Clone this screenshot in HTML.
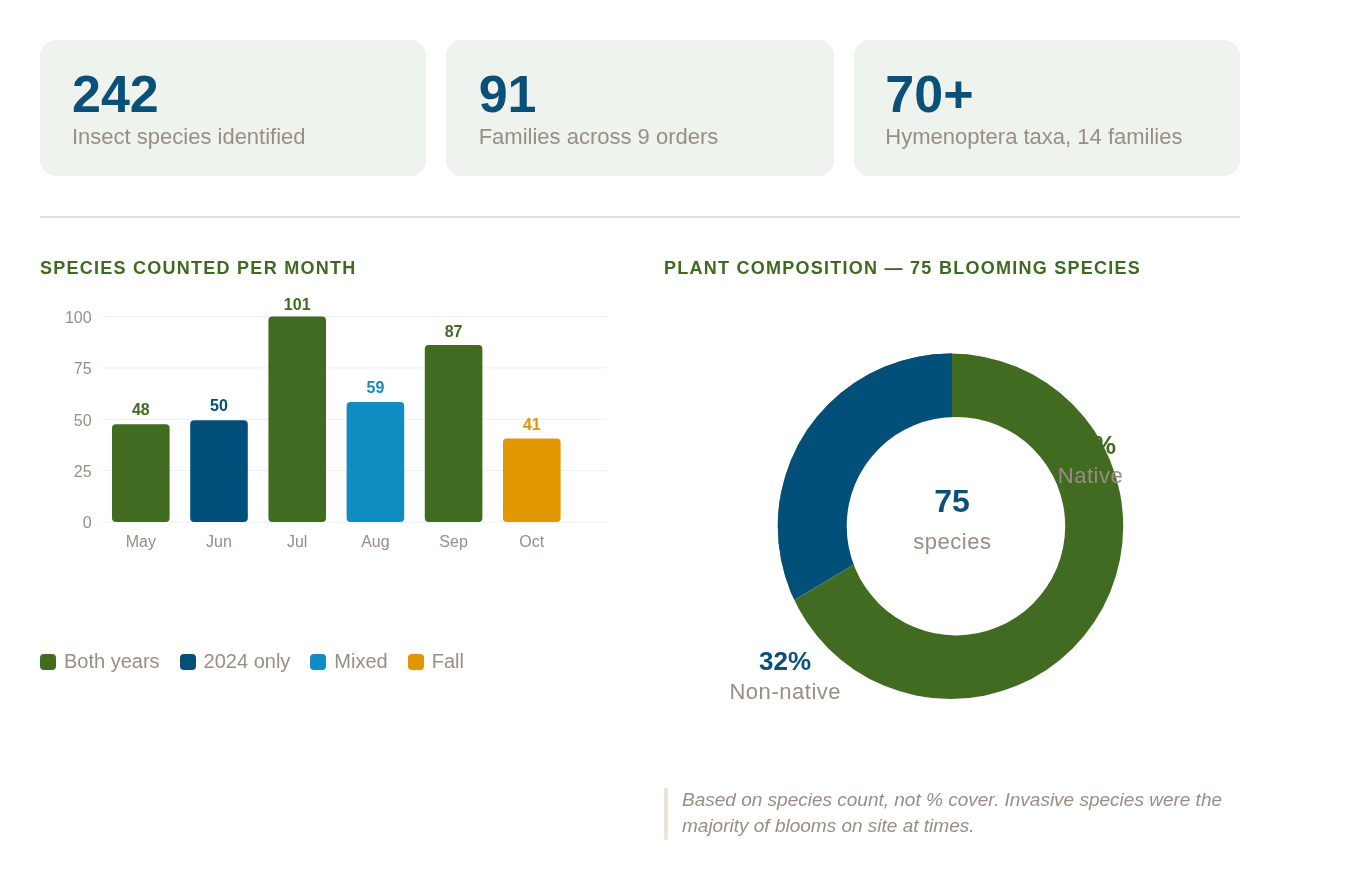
<!DOCTYPE html>
<html>
<head>
<meta charset="utf-8">
<style>
* { box-sizing: border-box; margin: 0; padding: 0; }
html, body { width: 1360px; height: 880px; background: #ffffff; overflow: hidden; }
body { font-family: "Liberation Sans", Arial, sans-serif; position: relative; }
.card, .title, .legend, .note, svg { will-change: transform; }
.card { position: absolute; top: 40px; height: 136px; background: #eef3ee; border-radius: 16px; padding: 29px 32px 0 32px; }
.num { font-size: 52px; font-weight: bold; color: #0b5079; line-height: 50px; letter-spacing: 0; }
.lbl { font-size: 22px; color: #9a8d84; line-height: 24px; margin-top: 6px; }
.hr { position: absolute; left: 40px; top: 216px; width: 1200px; height: 2px; background: #d6e3ea; }
.title { position: absolute; top: 258.3px; font-size: 18px; font-weight: bold; color: #3f6b20; letter-spacing: 1.255px; line-height: 20px; text-transform: uppercase; white-space: nowrap; }
svg { position: absolute; left: 0; top: 0; }
.legend { position: absolute; left: 40px; top: 650px; font-size: 20px; color: #9a8d84; white-space: nowrap; line-height: 22px; }
.legend span.sw { display: inline-block; width: 16px; height: 16px; border-radius: 4px; vertical-align: -2px; margin-right: 8px; }
.legend span.it { margin-right: 20px; }
.note { position: absolute; left: 664px; top: 787px; width: 576px; padding-left: 18px; font-size: 19px; font-style: italic; color: #9a8d84; line-height: 26px; }
.note::before { content: ""; position: absolute; left: 0; top: 1px; width: 4px; height: 52px; background: #ede3d6; }
</style>
</head>
<body>
<div class="card" style="left:40px;width:386px"><div class="num">242</div><div class="lbl">Insect species identified</div></div>
<div class="card" style="left:446px;width:388px;padding-left:32.67px"><div class="num">91</div><div class="lbl">Families across 9 orders</div></div>
<div class="card" style="left:854px;width:386px;padding-left:31.33px"><div class="num">70+</div><div class="lbl">Hymenoptera taxa, 14 families</div></div>
<div class="hr"></div>

<div class="title" style="left:40px">Species counted per month</div>
<div class="title" style="left:664px">Plant composition — 75 blooming species</div>

<svg width="1360" height="880" viewBox="0 0 1360 880" font-family="Liberation Sans, Arial, sans-serif">
  <g stroke="#e9f0f5" stroke-width="1">
    <line x1="102" y1="316.5" x2="606" y2="316.5"/>
    <line x1="102" y1="367.875" x2="606" y2="367.875"/>
    <line x1="102" y1="419.25" x2="606" y2="419.25"/>
    <line x1="102" y1="470.625" x2="606" y2="470.625"/>
    <line x1="102" y1="522.0" x2="606" y2="522.0"/>
  </g>
  <g font-size="16" fill="#9a8d84" text-anchor="end">
    <text x="91.6" y="322.90">100</text>
    <text x="91.6" y="374.27">75</text>
    <text x="91.6" y="425.65">50</text>
    <text x="91.6" y="477.02">25</text>
    <text x="91.6" y="528.40">0</text>
  </g>
  <g>
    <rect x="112.00" y="424.34" width="57.6" height="97.66" rx="4" fill="#416b20"/>
    <rect x="190.20" y="420.27" width="57.6" height="101.73" rx="4" fill="#02507a"/>
    <rect x="268.40" y="316.50" width="57.6" height="205.50" rx="4" fill="#416b20"/>
    <rect x="346.60" y="401.96" width="57.6" height="120.04" rx="4" fill="#0e8dc2"/>
    <rect x="424.80" y="344.99" width="57.6" height="177.01" rx="4" fill="#416b20"/>
    <rect x="503.00" y="438.58" width="57.6" height="83.42" rx="4" fill="#e29700"/>
  </g>
  <g font-size="16" font-weight="bold" text-anchor="middle">
    <text x="140.80" y="414.6" fill="#416b20">48</text>
    <text x="219.00" y="410.6" fill="#02507a">50</text>
    <text x="297.20" y="309.6" fill="#416b20">101</text>
    <text x="375.40" y="392.8" fill="#0e8dc2">59</text>
    <text x="453.60" y="337.2" fill="#416b20">87</text>
    <text x="531.80" y="429.6" fill="#e29700">41</text>
  </g>
  <g font-size="16" fill="#9a8d84" text-anchor="middle">
    <text x="140.80" y="547">May</text>
    <text x="219.00" y="547">Jun</text>
    <text x="297.20" y="547">Jul</text>
    <text x="375.40" y="547">Aug</text>
    <text x="453.60" y="547">Sep</text>
    <text x="531.80" y="547">Oct</text>
  </g>

  <!-- donut -->
  <defs><clipPath id="outer"><circle cx="950.5" cy="526.3" r="172.7"/></clipPath></defs>
  <circle cx="950.5" cy="526.3" r="172.7" fill="#416b20"/>
  <polygon clip-path="url(#outer)" fill="#02507a" points="952,340 952,506.1 677.1,670 600,670 600,340"/>
  <line x1="853.2" y1="565" x2="794.5" y2="600" stroke="#ffffff" stroke-opacity="0.35" stroke-width="0.7"/>
  <circle cx="955.95" cy="526.15" r="109.25" fill="#ffffff"/>
  <text x="1090" y="454.3" font-size="26" font-weight="bold" fill="#416b20" text-anchor="middle">68%</text>
  <text x="1090.5" y="483" font-size="22" letter-spacing="0.53" fill="#9a8d84" text-anchor="middle">Native</text>
  <text x="952" y="512" font-size="32" font-weight="bold" fill="#0b5079" text-anchor="middle">75</text>
  <text x="952.3" y="549" font-size="22" letter-spacing="0.53" fill="#9a8d84" text-anchor="middle">species</text>
  <text x="785" y="670" font-size="26" font-weight="bold" fill="#0b5079" text-anchor="middle">32%</text>
  <text x="785.3" y="699.3" font-size="22" letter-spacing="0.53" fill="#9a8d84" text-anchor="middle">Non-native</text>
</svg>

<div class="legend"><span class="sw" style="background:#416b20"></span><span class="it">Both years</span><span class="sw" style="background:#02507a"></span><span class="it">2024 only</span><span class="sw" style="background:#0e8dc2"></span><span class="it">Mixed</span><span class="sw" style="background:#e29700"></span><span class="it">Fall</span></div>

<div class="note">Based on species count, not % cover. Invasive species were the majority of blooms on site at times.</div>
</body>
</html>
